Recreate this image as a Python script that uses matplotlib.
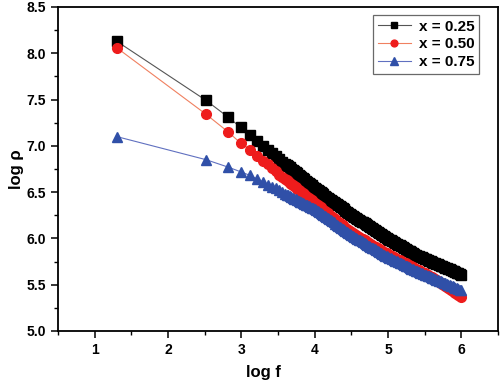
import matplotlib
matplotlib.use("Agg")
import matplotlib.pyplot as plt
from matplotlib.ticker import MultipleLocator, FormatStrFormatter

plt.rcParams['font.family'] = ['Liberation Sans', 'DejaVu Sans']

log_f = [1.30, 2.52, 2.82, 2.99, 3.12, 3.22, 3.30, 3.37, 3.42, 3.47, 3.52, 3.56,
         3.60, 3.62, 3.64, 3.66, 3.68, 3.70, 3.72, 3.74, 3.76, 3.78, 3.80, 3.82,
         3.84, 3.86, 3.88, 3.90, 3.92, 3.94, 3.96, 3.98, 4.00, 4.02, 4.04,
         4.06, 4.08, 4.10, 4.12, 4.14, 4.16, 4.18, 4.20, 4.22, 4.24, 4.26, 4.28,
         4.30, 4.32, 4.34, 4.36, 4.38, 4.40, 4.42, 4.44, 4.46, 4.48,
         4.50, 4.52, 4.54, 4.56, 4.58, 4.60, 4.62, 4.64, 4.66, 4.68, 4.70, 4.72,
         4.74, 4.76, 4.78, 4.80, 4.82, 4.84, 4.86, 4.88, 4.90, 4.92, 4.94, 4.96,
         4.98, 5.00, 5.02, 5.04, 5.06, 5.08, 5.10, 5.12, 5.14, 5.16, 5.18, 5.20,
         5.22, 5.24, 5.26, 5.28, 5.30, 5.32, 5.34, 5.36, 5.38, 5.40,
         5.42, 5.44, 5.46, 5.48, 5.50, 5.52, 5.54, 5.56, 5.58, 5.60, 5.62, 5.64,
         5.66, 5.68, 5.70, 5.72, 5.74, 5.76, 5.78, 5.80, 5.82, 5.84, 5.86, 5.88,
         5.90, 5.92, 5.94, 5.96, 5.98, 6.00]

rho_025 = [8.13, 7.49, 7.31, 7.20, 7.12, 7.05, 7.00, 6.96, 6.92, 6.89, 6.86, 6.83,
           6.807, 6.794, 6.781, 6.768, 6.755, 6.742, 6.729, 6.716, 6.703, 6.690, 6.677, 6.664,
           6.651, 6.638, 6.625, 6.612, 6.599, 6.586, 6.573, 6.560, 6.547, 6.534, 6.521,
           6.509, 6.498, 6.486, 6.475, 6.463, 6.452, 6.440, 6.428, 6.417, 6.405, 6.394, 6.382,
           6.371, 6.359, 6.347, 6.336, 6.324, 6.313, 6.301, 6.290, 6.278, 6.266,
           6.256, 6.245, 6.235, 6.224, 6.214, 6.203, 6.193, 6.182, 6.172, 6.162, 6.151, 6.141,
           6.130, 6.120, 6.109, 6.099, 6.088, 6.078, 6.068, 6.057, 6.047, 6.036, 6.026, 6.015,
           6.006, 5.997, 5.988, 5.979, 5.970, 5.960, 5.951, 5.942, 5.933, 5.924, 5.915, 5.906,
           5.897, 5.887, 5.878, 5.869, 5.860, 5.851, 5.842, 5.833, 5.823, 5.814,
           5.807, 5.800, 5.794, 5.787, 5.780, 5.773, 5.766, 5.760, 5.753, 5.746, 5.739, 5.732,
           5.726, 5.719, 5.712, 5.705, 5.699, 5.692, 5.685, 5.678, 5.671, 5.665, 5.658, 5.651,
           5.644, 5.637, 5.631, 5.624, 5.617, 5.610]

rho_050 = [8.06, 7.34, 7.15, 7.03, 6.96, 6.89, 6.84, 6.80, 6.76, 6.73, 6.69, 6.66,
           6.640, 6.627, 6.615, 6.602, 6.589, 6.576, 6.564, 6.551, 6.538, 6.525, 6.513, 6.500,
           6.487, 6.475, 6.462, 6.449, 6.436, 6.424, 6.411, 6.398, 6.385, 6.373, 6.360,
           6.347, 6.334, 6.321, 6.308, 6.295, 6.283, 6.270, 6.257, 6.244, 6.231, 6.218, 6.205,
           6.192, 6.179, 6.166, 6.154, 6.141, 6.128, 6.115, 6.102, 6.089, 6.076,
           6.065, 6.056, 6.046, 6.037, 6.027, 6.017, 6.008, 5.998, 5.989, 5.979, 5.970, 5.960,
           5.950, 5.941, 5.931, 5.922, 5.912, 5.903, 5.893, 5.883, 5.874, 5.864, 5.855, 5.845,
           5.838, 5.829, 5.821, 5.813, 5.805, 5.796, 5.788, 5.780, 5.772, 5.763, 5.755, 5.747,
           5.738, 5.730, 5.722, 5.714, 5.705, 5.697, 5.689, 5.681, 5.672, 5.664,
           5.656, 5.647, 5.639, 5.631, 5.622, 5.614, 5.605, 5.597, 5.588, 5.580, 5.570, 5.559,
           5.549, 5.538, 5.528, 5.517, 5.507, 5.496, 5.486, 5.475, 5.465, 5.454, 5.444, 5.433,
           5.423, 5.412, 5.402, 5.391, 5.381, 5.370]

rho_075 = [7.10, 6.85, 6.77, 6.72, 6.68, 6.64, 6.61, 6.58, 6.56, 6.54, 6.52, 6.50,
           6.480, 6.472, 6.464, 6.455, 6.447, 6.439, 6.431, 6.423, 6.415, 6.406, 6.398, 6.390,
           6.382, 6.374, 6.365, 6.357, 6.349, 6.341, 6.333, 6.325, 6.316, 6.308, 6.300,
           6.288, 6.277, 6.265, 6.254, 6.242, 6.231, 6.219, 6.207, 6.196, 6.184, 6.173, 6.161,
           6.150, 6.138, 6.126, 6.115, 6.103, 6.092, 6.080, 6.069, 6.057, 6.045,
           6.035, 6.026, 6.016, 6.007, 5.997, 5.987, 5.978, 5.968, 5.959, 5.949, 5.940, 5.930,
           5.920, 5.911, 5.901, 5.892, 5.882, 5.873, 5.863, 5.853, 5.844, 5.834, 5.825, 5.815,
           5.808, 5.800, 5.792, 5.784, 5.777, 5.769, 5.761, 5.753, 5.745, 5.737, 5.730, 5.722,
           5.714, 5.706, 5.698, 5.690, 5.683, 5.675, 5.667, 5.659, 5.651, 5.644,
           5.637, 5.630, 5.623, 5.617, 5.610, 5.603, 5.596, 5.590, 5.583, 5.576, 5.569, 5.562,
           5.556, 5.549, 5.542, 5.535, 5.529, 5.522, 5.515, 5.508, 5.501, 5.495, 5.488, 5.481,
           5.474, 5.467, 5.461, 5.454, 5.447, 5.440]

labels = ['x = 0.25', 'x = 0.50', 'x = 0.75']

fig = plt.figure(figsize=(5.0, 3.86), dpi=100)
ax = fig.add_axes([0.116, 0.1425, 0.880, 0.8395])

ax.plot(log_f, rho_025, color='#555555', lw=0.8, marker='s', ms=6.5,
        mfc='black', mec='black', label=labels[0])
ax.plot(log_f, rho_050, color='#f08060', lw=0.8, marker='o', ms=7,
        mfc='#ee1c1c', mec='#ee1c1c', label=labels[1])
ax.plot(log_f, rho_075, color='#6070c0', lw=0.8, marker='^', ms=7.5,
        mfc='#3050a8', mec='#3050a8', label=labels[2])

ax.set_xlim(0.5, 6.5)
ax.set_ylim(5.0, 8.5)
ax.xaxis.set_major_locator(MultipleLocator(1))
ax.xaxis.set_minor_locator(MultipleLocator(0.5))
ax.yaxis.set_major_locator(MultipleLocator(0.5))
ax.yaxis.set_minor_locator(MultipleLocator(0.25))
ax.yaxis.set_major_formatter(FormatStrFormatter('%.1f'))
ax.xaxis.set_major_formatter(FormatStrFormatter('%d'))

ax.tick_params(which='major', direction='out', length=5, width=1.1, labelsize=10)
ax.tick_params(which='minor', direction='out', length=3, width=1.0)
for lab in ax.get_xticklabels() + ax.get_yticklabels():
    lab.set_fontweight('bold')
for sp in ax.spines.values():
    sp.set_linewidth(1.3)
    sp.set_color('black')

ax.set_xlabel('log f', fontsize=12, fontweight='bold')
ax.set_ylabel('log ρ', fontsize=12, fontweight='bold')
ax.xaxis.set_label_coords(0.466, -0.105)
ax.yaxis.set_label_coords(-0.078, 0.5)

leg = ax.legend(loc='upper right', bbox_to_anchor=(0.957, 0.975),
                prop={'weight': 'bold', 'size': 11}, frameon=True, fancybox=False,
                edgecolor='#444444', handlelength=2.2, handletextpad=0.5,
                borderpad=0.3, labelspacing=0.25, borderaxespad=0, markerscale=0.7)
leg.get_frame().set_linewidth(0.9)

fig.savefig('out.png', dpi=100)
